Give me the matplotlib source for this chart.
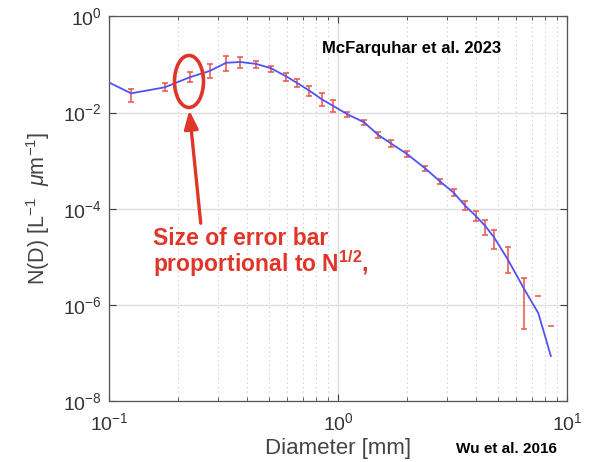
import matplotlib
matplotlib.use("Agg")
import matplotlib.pyplot as plt
import numpy as np
from matplotlib.patches import Ellipse

plt.rcParams['font.family'] = ['Liberation Sans', 'DejaVu Sans']
plt.rcParams['mathtext.fontset'] = 'custom'
plt.rcParams['mathtext.rm'] = 'Liberation Sans'
plt.rcParams['mathtext.it'] = 'Liberation Sans:italic'
plt.rcParams['mathtext.bf'] = 'Liberation Sans:bold'

# Diameter bins [mm]
diam = [0.125, 0.175, 0.225, 0.275, 0.325, 0.375, 0.44, 0.51, 0.59, 0.66,
        0.75, 0.85, 0.95, 1.1, 1.3, 1.5, 1.7, 2.0, 2.4, 2.8,
        3.2, 3.6, 4.0, 4.4, 4.8, 5.5, 6.5, 7.5, 8.5]
# N(D) [L^-1 um^-1]
nd = [0.0252, 0.0336, 0.0543, 0.0735, 0.109, 0.113, 0.103, 0.0836, 0.0578, 0.0419,
      0.0286, 0.0189, 0.0139, 0.00923, 0.00629, 0.00342, 0.00230, 0.00138, 6.94e-4, 3.65e-4,
      2.16e-4, 1.14e-4, 7.06e-5, 4.37e-5, 2.55e-5, 9.0e-6, 2.14e-6, 6.68e-7, 8.63e-8]
# error bar upper / lower bounds (None = lower bound not positive)
n_upper = [0.0306, 0.0419, 0.0690, 0.101, 0.151, 0.146, 0.120, 0.0933, 0.0658, 0.0508,
           0.0358, 0.0252, 0.0181, 0.01045, 0.00702, 0.00401, 0.00269, 0.00159, 7.86e-4, 4.22e-4,
           2.54e-4, 1.47e-4, 8.97e-5, 5.83e-5, 3.61e-5, 1.58e-5, 3.67e-6, 1.55e-6, 3.68e-7]
n_lower = [0.0169, 0.0282, 0.0428, 0.0518, 0.0735, 0.0836, 0.0836, 0.0710, 0.0462, 0.0336,
           0.0225, 0.0139, 0.01045, 0.00823, 0.00545, 0.00292, 0.00195, 0.00121, 6.1e-4, 3.23e-4,
           1.84e-4, 9.41e-5, 5.56e-5, 2.84e-5, 1.45e-5, 4.67e-6, 3.15e-7, None, None]
# mean curve starts at axis edge
line_d0, line_n0 = 0.1, 0.0423
# highlighted bin (circled)
ell_d, ell_n = 0.2235, 0.0445

fig = plt.figure(figsize=(6.03, 4.62), dpi=100)
ax = fig.add_axes([0.1808, 0.132, 0.7595, 0.8323])
ax.set_xscale('log')
ax.set_yscale('log')
ax.set_xlim(0.1, 10)
ax.set_ylim(1e-8, 1)

red = '#E9524A'
blue = '#5252F2'
ann_red = '#E0362A'

# error bars where both bounds exist
idx_full = [i for i, lo in enumerate(n_lower) if lo is not None]
xd = np.array([diam[i] for i in idx_full])
yv = np.array([nd[i] for i in idx_full])
ylo = yv - np.array([n_lower[i] for i in idx_full])
yhi = np.array([n_upper[i] for i in idx_full]) - yv
ax.errorbar(xd, yv, yerr=[ylo, yhi], fmt='none', ecolor=red, elinewidth=1.1,
            capsize=2.3, capthick=1.1, zorder=3)
# only upper caps where lower bound is non-positive
idx_cap = [i for i, lo in enumerate(n_lower) if lo is None]
ax.plot([diam[i] for i in idx_cap], [n_upper[i] for i in idx_cap], ls='none',
        marker='_', ms=5, mew=1.1, color=red, zorder=3)

ax.plot([line_d0] + diam, [line_n0] + nd, color=blue, lw=1.3, zorder=4)

# ticks and grid
ax.set_yticks([1e-8, 1e-6, 1e-4, 1e-2, 1])
ax.yaxis.set_minor_locator(matplotlib.ticker.NullLocator())
ax.set_xticks([0.1, 1, 10])
ax.xaxis.set_minor_locator(matplotlib.ticker.LogLocator(base=10, subs=np.arange(2, 10)))
ax.xaxis.set_minor_formatter(matplotlib.ticker.NullFormatter())
ax.grid(True, which='major', color='#DEDEDE', lw=1.0, zorder=0)
ax.grid(True, which='minor', axis='x', color='#C8C8C8', lw=0.8, ls=(0, (1, 3)), zorder=0)
ax.set_axisbelow(True)

ax.tick_params(which='both', direction='in', top=True, right=True, colors='#404040',
               labelcolor='#333333', labelsize=14)
ax.tick_params(axis='x', which='major', pad=8)
ax.tick_params(axis='y', which='major', pad=5)
ax.tick_params(which='major', length=5, width=0.8)
ax.tick_params(which='minor', length=3, width=0.6)
for s in ax.spines.values():
    s.set_color('#555555')
    s.set_linewidth(0.9)

ax.set_xlabel('Diameter [mm]', fontsize=16, color='#444444', labelpad=3)
ax.set_ylabel(r'N(D) [L$^{-1}$  $\mu$m$^{-1}$]', fontsize=15.5, color='#444444', labelpad=8)

# annotations
ax.text(0.465, 0.918, 'McFarquhar et al. 2023', transform=ax.transAxes, fontsize=12,
        fontweight='bold', color='black', ha='left', va='center')
fig.text(0.757, 0.028, 'Wu et al. 2016', fontsize=11, fontweight='bold', color='black',
         ha='left', va='center')

tr = ax.transAxes
ecx = (np.log10(ell_d) + 1) / 2
ecy = (np.log10(ell_n) + 8) / 8
ax.add_patch(Ellipse((ecx, ecy), 29 / 458, 52 / 384.5, transform=tr, fill=False,
                     edgecolor=ann_red, lw=2.6, zorder=6))
ax.annotate('', xy=(ecx, ecy - 26 / 384.5), xycoords=tr,
            xytext=((201 - 109) / 458, (401 - 226) / 384.5), textcoords=tr,
            arrowprops=dict(arrowstyle='-|>,head_length=1.1,head_width=0.42',
                            color=ann_red, lw=2.4), zorder=6)
ax.text((153 - 109) / 458, (401 - 238) / 384.5, 'Size of error bar',
        transform=tr, fontsize=16.5, fontweight='bold', color=ann_red, va='center', ha='left')
ax.text((153 - 109) / 458, (401 - 264) / 384.5, r'proportional to N$^{\mathbf{1/2}}$,',
        transform=tr, fontsize=16.5, fontweight='bold', color=ann_red, va='center', ha='left')

fig.savefig('out.png', dpi=100)
